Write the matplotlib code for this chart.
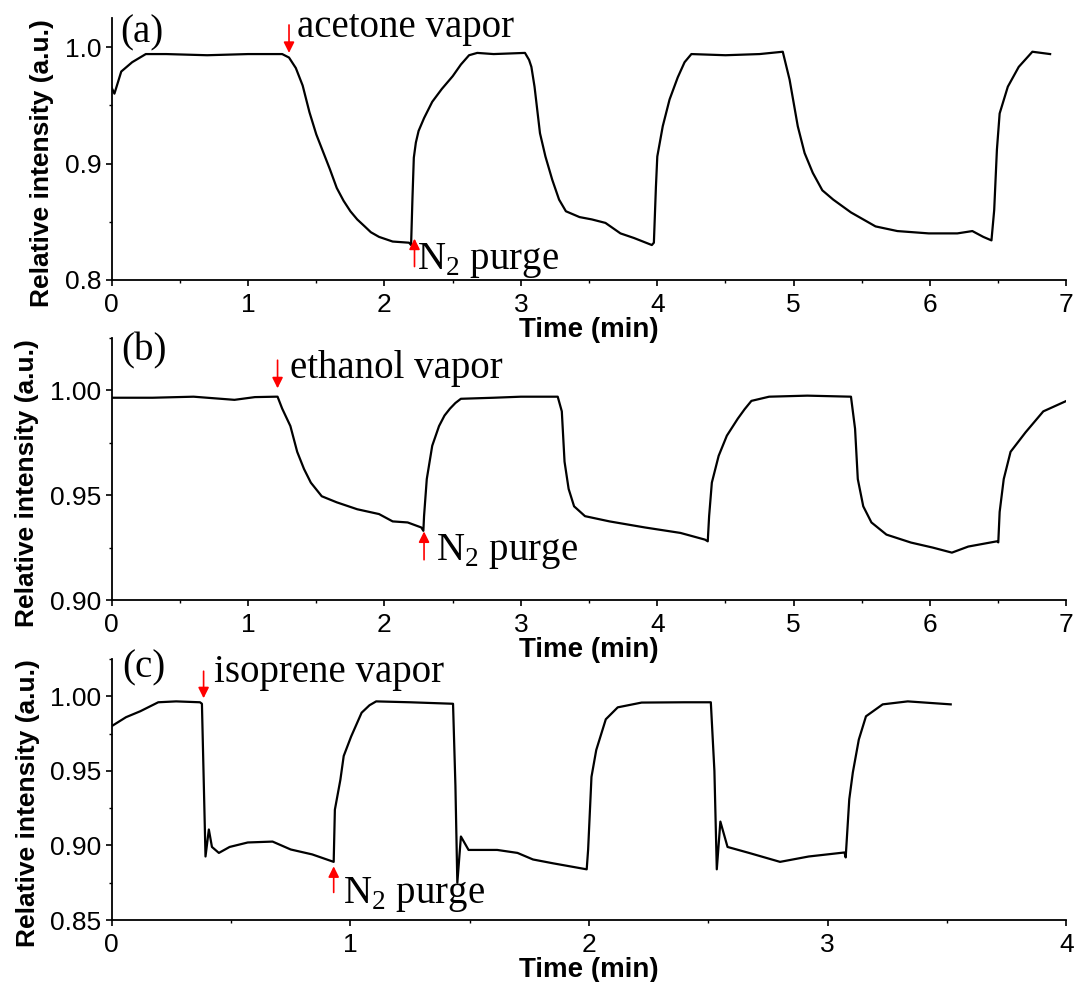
import matplotlib
matplotlib.use("Agg")
import matplotlib.pyplot as plt
from matplotlib.ticker import MultipleLocator, FormatStrFormatter

plt.rcParams["font.family"] = "Liberation Sans"
plt.rcParams["mathtext.fontset"] = "custom"
plt.rcParams["mathtext.rm"] = "Liberation Serif"

# (a) acetone cycles
time_a = [0, 0.02, 0.07, 0.15, 0.25, 0.4, 0.7, 1.0, 1.25, 1.30, 1.35, 1.40,
          1.45, 1.50, 1.55, 1.60, 1.65, 1.70, 1.75, 1.80, 1.855, 1.90, 1.96,
          2.06, 2.18, 2.195, 2.205, 2.215, 2.23, 2.25, 2.29, 2.35, 2.42, 2.50,
          2.56, 2.62, 2.68, 2.8, 3.03, 3.06, 3.077, 3.10, 3.14, 3.18, 3.23,
          3.28, 3.33, 3.43, 3.52, 3.62, 3.73, 3.83, 3.96, 3.975, 3.99, 4.00,
          4.04, 4.09, 4.15, 4.20, 4.25, 4.5, 4.75, 4.92, 4.97, 5.03, 5.08,
          5.14, 5.21, 5.29, 5.42, 5.60, 5.76, 5.99, 6.2, 6.31, 6.39, 6.45,
          6.47, 6.49, 6.51, 6.57, 6.65, 6.75, 6.88]
inten_a = [0.965, 0.960, 0.979, 0.987, 0.994, 0.994, 0.993, 0.994, 0.994,
           0.991, 0.982, 0.967, 0.944, 0.925, 0.910, 0.895, 0.879, 0.868,
           0.859, 0.852, 0.846, 0.841, 0.837, 0.833, 0.832, 0.830, 0.870,
           0.905, 0.918, 0.928, 0.939, 0.953, 0.964, 0.975, 0.985, 0.993,
           0.995, 0.994, 0.995, 0.989, 0.983, 0.966, 0.926, 0.906, 0.886,
           0.869, 0.859, 0.854, 0.852, 0.849, 0.840, 0.836, 0.830, 0.832,
           0.880, 0.906, 0.932, 0.955, 0.974, 0.987, 0.994, 0.993, 0.994,
           0.996, 0.972, 0.932, 0.909, 0.892, 0.877, 0.869, 0.858, 0.846,
           0.842, 0.840, 0.840, 0.842, 0.837, 0.834, 0.860, 0.912, 0.943,
           0.966, 0.983, 0.996, 0.994]

# (b) ethanol cycles
time_b = [0, 0.3, 0.6, 0.9, 1.05, 1.2, 1.216, 1.25, 1.31, 1.36, 1.41, 1.46,
          1.54, 1.65, 1.80, 1.96, 2.06, 2.17, 2.27, 2.285, 2.29, 2.31, 2.35,
          2.40, 2.44, 2.48, 2.52, 2.56, 2.8, 3.0, 3.27, 3.30, 3.32, 3.35, 3.39,
          3.47, 3.65, 3.91, 4.17, 4.35, 4.37, 4.38, 4.40, 4.45, 4.51, 4.59,
          4.64, 4.69, 4.82, 5.1, 5.42, 5.45, 5.47, 5.51, 5.57, 5.68, 5.86,
          6.02, 6.16, 6.28, 6.49, 6.50, 6.51, 6.54, 6.59, 6.70, 6.83, 7.0]
inten_b = [0.9965, 0.9965, 0.997, 0.9955, 0.9968, 0.997, 0.997, 0.9913,
           0.983, 0.9707, 0.9625, 0.956, 0.9495, 0.9466, 0.9433, 0.941,
           0.9375, 0.937, 0.9346, 0.933, 0.940, 0.9577, 0.9736, 0.983, 0.988,
           0.9913, 0.994, 0.996, 0.9965, 0.997, 0.997, 0.990, 0.966, 0.953,
           0.9447, 0.940, 0.9375, 0.9346, 0.932, 0.9288, 0.928, 0.940, 0.956,
           0.9688, 0.9784, 0.9865, 0.991, 0.995, 0.997, 0.9975, 0.997, 0.9817,
           0.9577, 0.9447, 0.937, 0.9312, 0.9274, 0.925, 0.9226, 0.9255, 0.928,
           0.9275, 0.942, 0.9577, 0.9707, 0.980, 0.990, 0.995]

# (c) isoprene cycles
time_c = [0, 0.06, 0.12, 0.195, 0.27, 0.37, 0.378, 0.393, 0.407, 0.42, 0.449,
          0.494, 0.57, 0.674, 0.75, 0.84, 0.93, 0.935, 0.958, 0.972, 1.003,
          1.047, 1.08, 1.108, 1.25, 1.43, 1.44, 1.448, 1.463, 1.495, 1.615,
          1.70, 1.765, 1.85, 1.99, 1.996, 2.01, 2.03, 2.07, 2.12, 2.22, 2.4,
          2.51, 2.525, 2.535, 2.55, 2.58, 2.67, 2.80, 2.92, 3.07, 3.075, 3.09,
          3.105, 3.13, 3.16, 3.23, 3.335, 3.515]
inten_c = [0.980, 0.986, 0.990, 0.996, 0.9966, 0.996, 0.995, 0.8926, 0.9107,
           0.899, 0.895, 0.899, 0.902, 0.9026, 0.8973, 0.894, 0.889, 0.924,
           0.944, 0.960, 0.973, 0.989, 0.994, 0.9966, 0.996, 0.995, 0.940,
           0.875, 0.906, 0.897, 0.897, 0.895, 0.8906, 0.888, 0.884, 0.8973,
           0.946, 0.964, 0.9846, 0.9926, 0.9958, 0.996, 0.996, 0.950, 0.884,
           0.916, 0.899, 0.895, 0.889, 0.8926, 0.8953, 0.892, 0.931, 0.949,
           0.971, 0.9866, 0.9946, 0.9966, 0.9946]

panels = [
    dict(t=time_a, y=inten_a, tag="(a)", vapor="acetone vapor",
         xlim=(0, 7), ylim=(0.8, 1.025), yticks=[0.8, 0.9, 1.0], fmt="%.1f",
         yminor=0.05, ylab_x=-0.0607, tag_xy=(0.066, 1.004),
         down=(1.30, 1.019, 0.995), vapor_xy=(1.355, 1.0086),
         up=(2.22, 0.8115, 0.8355), purge_xy=(2.235, 0.809)),
    dict(t=time_b, y=inten_b, tag="(b)", vapor="ethanol vapor",
         xlim=(0, 7), ylim=(0.9, 1.025), yticks=[0.90, 0.95, 1.00], fmt="%.2f",
         yminor=0.025, ylab_x=-0.0764, tag_xy=(0.073, 1.0144),
         down=(1.216, 1.0144, 1.001), vapor_xy=(1.304, 1.0058),
         up=(2.29, 0.9192, 0.9327), purge_xy=(2.38, 0.9192)),
    dict(t=time_c, y=inten_c, tag="(c)", vapor="isoprene vapor",
         xlim=(0, 4), ylim=(0.85, 1.025), yticks=[0.85, 0.90, 0.95, 1.00],
         fmt="%.2f", yminor=0.025, ylab_x=-0.0753, tag_xy=(0.046, 1.0128),
         down=(0.385, 1.0168, 0.9987), vapor_xy=(0.427, 1.0094),
         up=(0.93, 0.8685, 0.886), purge_xy=(0.967, 0.8617)),
]

fig = plt.figure(figsize=(10.74, 9.82), dpi=100)
rects = [(0.104, 0.7149, 0.889, 0.2668),
         (0.104, 0.3890, 0.889, 0.2668),
         (0.104, 0.0631, 0.889, 0.2658)]

serif = "Liberation Serif"
for rect, p in zip(rects, panels):
    ax = fig.add_axes(rect)
    ax.patch.set_visible(False)
    ax.plot(p["t"], p["y"], color="black", lw=1.6)

    ax.set_xlim(*p["xlim"])
    ax.set_ylim(*p["ylim"])
    ax.set_yticks(p["yticks"])
    ax.yaxis.set_major_formatter(FormatStrFormatter(p["fmt"]))
    ax.xaxis.set_major_locator(MultipleLocator(1))
    ax.xaxis.set_minor_locator(MultipleLocator(0.5))
    ax.yaxis.set_minor_locator(MultipleLocator(p["yminor"]))

    for side in ("top", "right"):
        ax.spines[side].set_visible(False)
    for side in ("left", "bottom"):
        ax.spines[side].set_linewidth(1.3)
    ax.tick_params(which="major", direction="out", length=4, width=1.2,
                   labelsize=19)
    ax.tick_params(which="minor", direction="out", length=2.2, width=1.0)
    ax.tick_params(axis="y", which="major", pad=3.5)
    ax.tick_params(axis="x", which="major", pad=5.5)

    ax.set_xlabel("Time (min)", fontsize=20, fontweight="bold", labelpad=0)
    ax.set_ylabel("Relative intensity (a.u.)", fontsize=19, fontweight="bold")
    ax.yaxis.set_label_coords(p["ylab_x"], 0.447)

    ax.text(*p["tag_xy"], p["tag"], family=serif, fontsize=28,
            va="baseline", ha="left")

    # vapor on / N2 purge markers
    x, y0, y1 = p["down"]
    ax.annotate("", xy=(x, y1), xytext=(x, y0),
                arrowprops=dict(arrowstyle="-|>", color="red", lw=1.2,
                                mutation_scale=16, shrinkA=0, shrinkB=0))
    ax.text(*p["vapor_xy"], p["vapor"], family=serif, fontsize=28,
            va="baseline", ha="left")
    x, y0, y1 = p["up"]
    ax.annotate("", xy=(x, y1), xytext=(x, y0),
                arrowprops=dict(arrowstyle="-|>", color="red", lw=1.2,
                                mutation_scale=16, shrinkA=0, shrinkB=0))
    ax.text(*p["purge_xy"], r"N$_\mathregular{2}$ purge", family=serif,
            fontsize=28, va="baseline", ha="left")

fig.savefig("out.png", dpi=100)
